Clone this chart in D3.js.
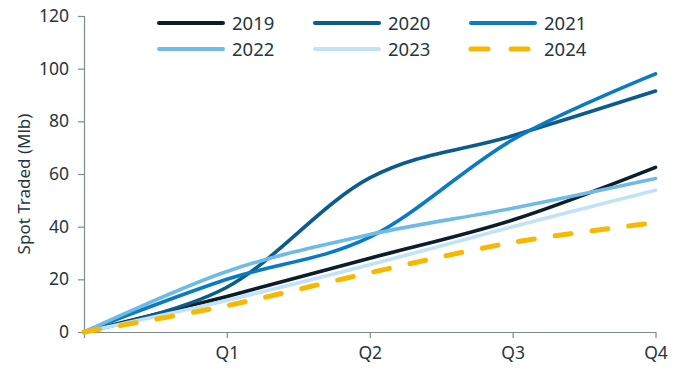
<!DOCTYPE html>
<html>
<head>
<meta charset="utf-8">
<script src="https://cdn.jsdelivr.net/npm/d3@7"></script>
<style>
  html, body { margin: 0; padding: 0; background: #fff; }
  svg { display: block; font-family: "Noto Sans", "Open Sans", sans-serif; }
</style>
</head>
<body>
<svg id="chart" width="678" height="372"></svg>
<script>
// Cumulative spot volume traded by quarter, one series per year
const quarters = ["", "Q1", "Q2", "Q3", "Q4"];
const yTicks = [0, 20, 40, 60, 80, 100, 120];
const years = ["2019", "2020", "2021", "2022", "2023", "2024"];
const v2019 = [0, 13.5, 28, 42.5, 62.5];
const v2020 = [0, 17, 58.5, 74.5, 91.5];
const v2021 = [0, 20, 36, 73, 98];
const v2022 = [0, 23, 37, 47, 58.3];
const v2023 = [0, 12, 25.5, 40, 53.8];
const v2024 = [0, 10, 22.5, 34, 41.5];
const colors = ["#0b1e2c", "#0b5b8c", "#0b7bc1", "#6fbbe6", "#c2e2f7", "#f7b900"];

const seriesValues = [v2019, v2020, v2021, v2022, v2023, v2024];
const series = years.map((y, i) => ({ name: y, values: seriesValues[i], color: colors[i], dashed: y === "2024" }));

const svg = d3.select("#chart");

const x = d3.scalePoint().domain(quarters.map((q, i) => i)).range([84, 655.5]);
const y = d3.scaleLinear().domain([0, 120]).range([332, 16]);

const textColor = "#26363d";
const axisColor = "#7d8a8f";

// Y axis
const yAxis = svg.append("g").attr("transform", `translate(${x(0)},0)`)
  .call(d3.axisLeft(y).tickValues(yTicks).tickSize(6).tickPadding(9));
yAxis.select(".domain").attr("stroke", axisColor).attr("stroke-width", 1.2);
yAxis.selectAll(".tick line").attr("stroke", axisColor).attr("stroke-width", 1.2);
yAxis.selectAll(".tick text").attr("fill", textColor).style("font-size", "17.5px")
  .style("font-family", "'Noto Sans', sans-serif");

// X axis
const xAxis = svg.append("g").attr("transform", `translate(0,${y(0)})`)
  .call(d3.axisBottom(x).tickFormat(i => quarters[i]).tickSize(6).tickSizeOuter(0).tickPadding(9));
xAxis.select(".domain").attr("stroke", axisColor).attr("stroke-width", 1.2);
xAxis.selectAll(".tick line").attr("stroke", axisColor).attr("stroke-width", 1.2);
xAxis.selectAll(".tick text").attr("fill", textColor).style("font-size", "17.5px")
  .style("font-family", "'Noto Sans', sans-serif");

// Y axis title
svg.append("text")
  .attr("transform", `translate(30,${(y(0) + y(120)) / 2 + 10}) rotate(-90)`)
  .attr("text-anchor", "middle")
  .attr("fill", textColor)
  .style("font-size", "17px")
  .text("Spot Traded (Mlb)");

// Series lines
const line = d3.line()
  .x((d, i) => x(i))
  .y(d => y(d))
  .curve(d3.curveCatmullRom.alpha(0));

svg.append("g").selectAll("path")
  .data(series)
  .join("path")
  .attr("d", d => line(d.values))
  .attr("fill", "none")
  .attr("stroke", d => d.color)
  .attr("stroke-width", d => d.dashed ? 5 : 3.6)
  .attr("stroke-linecap", "round")
  .attr("stroke-dasharray", d => d.dashed ? "16,21" : null);

// Legend: two rows of three entries
const legend = svg.append("g");
const colX = [157, 313, 469];
const rowY = [23, 49];
series.forEach((s, i) => {
  const cx = colX[i % 3], cy = rowY[Math.floor(i / 3)];
  const g = legend.append("g").attr("transform", `translate(${cx},${cy})`);
  g.append("line")
    .attr("x1", 2).attr("x2", 66).attr("y1", 0).attr("y2", 0)
    .attr("stroke", s.color)
    .attr("stroke-width", s.dashed ? 5 : 4)
    .attr("stroke-linecap", "round")
    .attr("stroke-dasharray", s.dashed ? "17,23" : null);
  g.append("text")
    .attr("x", 75).attr("y", 0).attr("dy", "0.36em")
    .attr("fill", textColor)
    .style("font-size", "18.5px")
    .text(s.name);
});
</script>
</body>
</html>
